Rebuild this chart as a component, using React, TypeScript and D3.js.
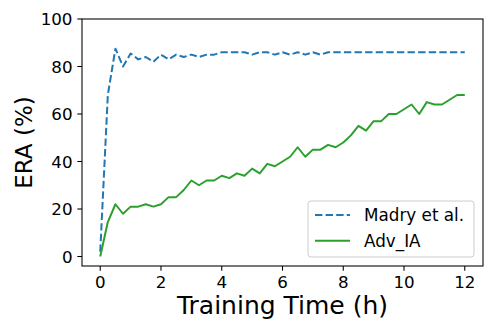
import React from 'react';
import { scaleLinear, line } from 'd3';

// training time in hours, sampled every 15 min
const hours = Array.from({ length: 49 }, (_, i) => i * 0.25);

const madry = [
    2, 68, 87.5, 80, 85.5, 83, 84, 82, 85, 83, 85, 84, 85, 84, 85, 85,
    86, 86, 86, 86, 85, 86, 86, 85, 86, 85, 86, 85, 86, 85, 86,
    86, 86, 86, 86, 86, 86, 86, 86, 86, 86, 86, 86, 86, 86, 86, 86, 86, 86,
];

const advIA = [
    0, 14.5, 22, 18, 21, 21, 22, 21, 22, 25,
    25, 28, 32, 30, 32, 32, 34, 33, 35, 34,
    37, 35, 39, 38, 40, 42, 46, 42, 45, 45,
    47, 46, 48, 51, 55, 53, 57, 57, 60, 60,
    62, 64, 60, 65, 64, 64, 66, 68, 68,
];

const xTicks = [0, 2, 4, 6, 8, 10, 12];
const yTicks = [0, 20, 40, 60, 80, 100];

const series = [
    { name: 'Madry et al.', values: madry, color: '#1f77b4', dash: '7.4,3.2' },
    { name: 'Adv_IA', values: advIA, color: '#2ca02c', dash: undefined },
];

export default function App() {
    const width = 498;
    const height = 332;
    const margin = { top: 19, right: 15, bottom: 66, left: 82 };
    const innerW = width - margin.left - margin.right;
    const innerH = height - margin.top - margin.bottom;

    const x = scaleLinear().domain([-0.6, 12.6]).range([0, innerW]);
    const y = scaleLinear().domain([-4, 100]).range([innerH, 0]);

    const font = '"DejaVu Sans", sans-serif';

    const legendW = 166;
    const legendH = 56;
    const legendX = innerW - legendW - 9;
    const legendY = innerH - legendH - 9;

    return (
        <svg
            width={width}
            height={height}
            style={{ position: 'absolute', left: 0, top: 0, background: '#fff' }}
            fontFamily={font}
        >
            <g transform={`translate(${margin.left},${margin.top})`}>
                {/* lines */}
                {series.map(s => {
                    const path = line<number>()
                        .x((_, i) => x(hours[i]))
                        .y(d => y(d))(s.values);
                    return (
                        <path
                            key={s.name}
                            d={path || ''}
                            fill="none"
                            stroke={s.color}
                            strokeWidth={2}
                            strokeDasharray={s.dash}
                            strokeLinejoin="round"
                        />
                    );
                })}

                {/* frame */}
                <rect x={0} y={0} width={innerW} height={innerH} fill="none" stroke="#000" strokeWidth={1.07} />

                {/* x ticks */}
                {xTicks.map(t => (
                    <g key={t} transform={`translate(${x(t)},${innerH})`}>
                        <line y1={0} y2={4.7} stroke="#000" strokeWidth={1.07} />
                        <text y={21.8} textAnchor="middle" fontSize={16.7} fill="#000">{t}</text>
                    </g>
                ))}

                {/* y ticks */}
                {yTicks.map(t => (
                    <g key={t} transform={`translate(0,${y(t)})`}>
                        <line x1={-4.7} x2={0} stroke="#000" strokeWidth={1.07} />
                        <text x={-9.5} dy="0.36em" textAnchor="end" fontSize={16.7} fill="#000">{t}</text>
                    </g>
                ))}

                {/* legend */}
                <g transform={`translate(${legendX},${legendY})`}>
                    <rect width={legendW} height={legendH} rx={3} fill="#fff" fillOpacity={0.8} stroke="#cccccc" strokeWidth={1} />
                    {series.map((s, i) => (
                        <g key={s.name} transform={`translate(0,${14 + i * 25.7})`}>
                            <line x1={7} x2={42} stroke={s.color} strokeWidth={2} strokeDasharray={s.dash} />
                            <text x={56} dy="0.36em" fontSize={16.8} fill="#000">{s.name}</text>
                        </g>
                    ))}
                </g>
            </g>

            {/* axis titles */}
            <text x={margin.left + innerW / 2} y={314} textAnchor="middle" fontSize={25} fill="#000">
                Training Time (h)
            </text>
            <text
                transform={`translate(31.5,${margin.top + innerH / 2}) rotate(-90)`}
                textAnchor="middle"
                fontSize={23}
                fill="#000"
            >
                ERA (%)
            </text>
        </svg>
    );
}
